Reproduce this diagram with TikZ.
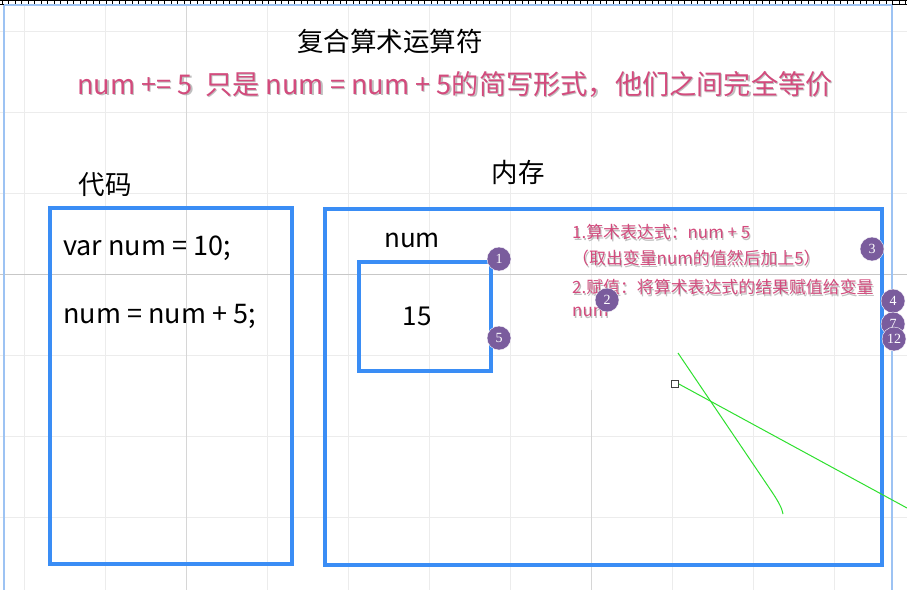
\documentclass[tikz,border=0pt]{standalone}
\usepackage{fontspec}
\setmainfont{Noto Sans CJK SC}
\newfontfamily\badgefont{Liberation Serif}
\usepackage{xcolor}
\usepackage{tikz}
\usetikzlibrary{positioning}
\definecolor{boxblue}{HTML}{3A8DF5}
\definecolor{rulerblue}{HTML}{9DC3F3}
\definecolor{notePink}{HTML}{D34B7D}
\definecolor{badgePurple}{HTML}{7A5C9D}
\definecolor{wire}{HTML}{2EE02E}
\definecolor{gridGray}{HTML}{ECECEC}
\tikzset{
  lab/.style={text=black, font=\fontsize{26.5}{30}\selectfont, inner sep=0pt},
  codeLine/.style={text=black, font=\fontsize{27}{30}\selectfont, inner sep=0pt, anchor=west},
  noteText/.style={text=notePink, font=\fontsize{16.9}{20}\selectfont, inner sep=0pt, anchor=west},
  headText/.style={text=notePink, font=\fontsize{27.2}{30}\selectfont, inner sep=0pt},
  blueBox/.style={draw=boxblue, line width=4pt, inner sep=0pt},
  badge/.style={circle, fill=badgePurple, draw=white, line width=0.4pt, minimum size=24pt, inner sep=0pt, text=white, font=\badgefont\fontsize{14}{14}\selectfont},
  gridLine/.style={draw=gridGray, line width=0.8pt},
  greenLine/.style={draw=wire, line width=1pt}
}
\newcommand{\shadowed}[4]{%
  \node[#1, text=black!45, opacity=0.55, xshift=1.2pt, yshift=-1.8pt] at #3 {#4};
  \node[#1] (#2) at #3 {#4};}

\begin{document}
\begin{tikzpicture}[x=1pt, y=-1pt]
  \useasboundingbox (0,0) rectangle (907,590);
  \fill[white] (0,0) rectangle (907,590);

  \foreach \x in {24,105,...,834}
    \draw[gridLine] (\x,6) -- (\x,590);
  \foreach \y in {31,112,...,517}
    \draw[gridLine] (0,\y) -- (907,\y);
  \draw[black!22, line width=0.8pt] (0,274) -- (907,274);
  \draw[black!16, line width=0.8pt] (186,6) -- (186,590);
  \draw[black!16, line width=0.8pt] (591,390) -- (591,590);

  \draw[black, line width=0.6pt] (0,0.5) -- (907,0.5);
  \draw[black, line width=0.6pt] (0,4) -- (907,4);
  \foreach \x in {2,8.5,...,907}
    \draw[black, line width=0.5pt] (\x,0.5) -- (\x,4);
  \draw[rulerblue, line width=1.5pt] (4,5) -- (892,5);
  \draw[rulerblue, line width=2pt] (4,5) -- (4,590);
  \draw[rulerblue, line width=2pt] (892,5) -- (892,590);

  \node[lab] (title) at (390,41) {复合算术运算符};
  \shadowed{headText}{same}{(455,84)}{num += 5\ \ 只是 num = num + 5的简写形式，他们之间完全等价}

  \node[lab] (codeLab) at (105,185) {代码};
  \node[lab] (memLab) at (518,172) {内存};

  \node[blueBox, minimum width=242pt, minimum height=356pt] (code) at (170.5,386) {};
  \node[blueBox, minimum width=557pt, minimum height=356pt] (mem) at (603.5,387) {};
  \node[blueBox, minimum width=132pt, minimum height=109pt] (numBox) at (424.5,316.5) {};

  \node[codeLine] (decl) at (63,248) {var num = 10;};
  \node[codeLine] (assign) at (63,316) {num = num + 5;};
  \node[lab, font=\fontsize{26}{30}\selectfont] (numLab) at (412,240) {num};
  \node[lab, font=\fontsize{26}{30}\selectfont] (value) at (417,316) {15};

  \shadowed{noteText}{stepOne}{(572,232)}{1.算术表达式：num + 5}
  \shadowed{noteText}{stepOneB}{(572,258)}{（取出变量num的值然后加上5）}
  \shadowed{noteText}{stepTwo}{(572,287)}{2.赋值：将算术表达式的结果赋值给变量}
  \shadowed{noteText}{stepTwoB}{(572,312)}{num}

  \node[draw=black!75, fill=white, line width=0.8pt, minimum size=7pt, inner sep=0pt] (handle) at (675,384) {};
  \coordinate (wireEndA) at (907,508);
  \coordinate (wireTop) at (678,353);
  \coordinate (wireEndB) at (783,514);
  \draw[greenLine] (handle.east) -- (wireEndA);
  \draw[greenLine] (wireTop) -- (772,492) .. controls (780,504) and (782,509) .. (wireEndB);

  \node[badge] (b1) at (499,259) {1};
  \node[badge] (b5) at (499,338) {5};
  \node[badge] (b2) at (607,300) {2};
  \node[badge] (b3) at (872,249) {3};
  \node[badge] (b4) at (893,301) {4};
  \node[badge] (b7) at (893,324) {7};
  \node[badge] (b12) at (894,339) {12};
\end{tikzpicture}
\end{document}
